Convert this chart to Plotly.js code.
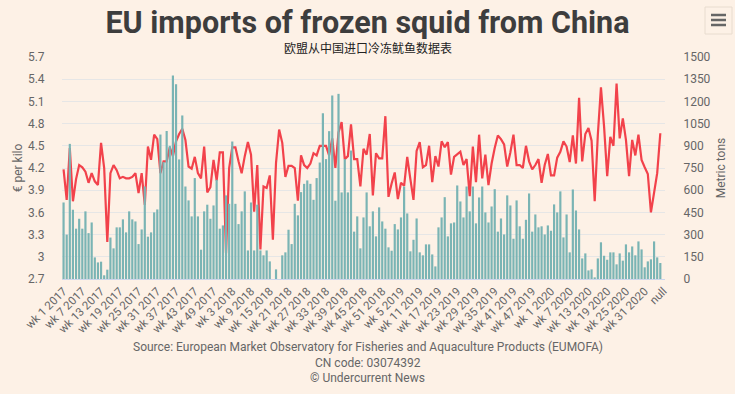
<!DOCTYPE html>
<html>
<head>
<meta charset="utf-8">
<script src="https://cdn.plot.ly/plotly-3.0.1.min.js"></script>
<style>
html,body{margin:0;padding:0;background:#fdf1e6;}
#chart{width:735px;height:394px;}
</style>
</head>
<body>
<div id="chart"></div>
<script>
// ---- data ----
var years = [2017, 2018, 2019, 2020];
var weeksPerYear = [52, 52, 52, 36];
var lastCategory = "null";

// Import volume, metric tons (bars, right axis)
var volumeTons = [
517,300,913,468,340,407,340,457,310,382,146,112,117,25,63,280,207,349,349,403,
315,457,403,389,236,335,625,286,315,450,470,976,790,1000,900,1375,1316,808,1105,625,
531,423,682,423,198,457,502,407,497,670,340,362,565,508,929,508,371,457,592,193,
517,193,502,193,160,193,119,0,65,0,160,180,333,236,508,430,587,643,666,643,
535,682,787,1120,810,999,1240,529,1251,585,810,585,868,320,423,207,416,585,356,457,
288,484,389,340,214,191,371,335,416,625,443,187,265,409,180,160,234,234,166,85,
349,416,553,288,376,382,632,524,416,625,457,625,376,551,625,450,382,490,607,320,
409,301,565,497,272,531,356,272,400,578,320,436,349,356,301,362,326,504,450,592,
281,436,180,605,463,335,139,173,58,65,11,139,248,157,130,180,180,99,173,124,
234,180,220,160,254,200,79,119,133,254,146,108,null
];

// Price, EUR per kilo (line, left axis)
var priceEurKg = [
4.18,3.77,4.47,3.75,4.05,4.24,4.21,4.15,4.00,4.13,4.02,3.97,4.54,4.20,3.20,4.13,4.24,4.17,4.06,4.08,
4.06,4.06,4.08,4.13,3.86,4.13,3.70,4.49,4.31,4.65,4.59,4.13,4.29,4.29,4.48,4.36,4.56,4.66,4.73,4.58,
4.22,4.19,4.35,4.13,4.06,4.49,3.87,3.94,4.31,4.03,4.41,4.41,3.05,4.20,4.48,4.48,4.29,4.13,4.36,4.55,
4.38,3.61,4.24,3.10,3.95,3.93,4.10,3.23,4.27,4.72,4.54,4.08,4.23,4.23,4.20,3.76,4.37,4.24,4.20,4.26,
4.40,4.37,4.50,4.50,4.50,4.37,4.60,4.20,4.68,4.82,4.32,4.36,4.79,4.32,4.32,3.95,4.46,4.38,4.66,3.83,
4.40,4.33,4.33,4.90,3.81,3.99,4.14,3.78,4.00,3.96,4.35,4.05,3.77,4.43,4.55,4.21,4.24,4.50,4.01,4.36,
4.22,4.56,4.48,4.55,4.11,4.35,4.39,4.42,4.24,4.32,3.82,4.49,4.01,4.65,4.06,4.38,3.97,4.26,4.47,4.64,
4.59,4.52,4.22,4.41,4.65,4.24,4.24,4.20,4.50,4.29,4.18,4.24,4.32,4.00,4.24,4.39,4.10,4.10,4.34,4.42,
4.56,4.49,4.28,4.64,4.26,5.15,4.29,4.66,4.74,4.57,3.75,4.65,5.29,4.76,4.09,4.62,4.50,5.34,4.60,4.87,
4.58,4.09,4.58,4.37,4.65,4.31,4.21,4.12,3.60,3.86,4.13,4.67,null
];

// category labels
var categories = [];
for (var yi = 0; yi < years.length; yi++) {
  for (var w = 1; w <= weeksPerYear[yi]; w++) categories.push("wk " + w + " " + years[yi]);
}
categories.push(lastCategory);

var tickStep = 6;
var tickLabels = categories.filter(function(c, i){ return i % tickStep === 0; });

var leftTicks = [2.7,3,3.3,3.6,3.9,4.2,4.5,4.8,5.1,5.4,5.7];
var rightTicks = [0,150,300,450,600,750,900,1050,1200,1350,1500];

// ---- layout helpers ----
var W = 735, H = 394, mL = 62, mR = 70, mT = 57, mB = 115;
var pw = W - mL - mR, ph = H - mT - mB;
function px(x){ return (x - mL) / pw; }
function py(y){ return (H - mB - y) / ph; }

var font = "Roboto, 'Open Sans', sans-serif";
var grey = "#666666";

var traces = [
  {
    type: "bar", name: "Metric tons", x: categories, y: volumeTons, yaxis: "y2",
    marker: {color: "#7ab4b4", line: {width: 0}},
    hoverinfo: "skip"
  },
  {
    type: "scatter", mode: "lines", name: "€ per kilo", x: categories, y: priceEurKg, yaxis: "y",
    line: {color: "#f2424b", width: 2.2},
    connectgaps: false, hoverinfo: "skip"
  }
];

var shapes = [
  {type:"rect", xref:"paper", yref:"paper", x0:px(705), x1:px(732), y0:py(34), y1:py(7),
   line:{color:"#e8dccf", width:1}, fillcolor:"#fdf1e6", layer:"above"}
];
[15,20,25].forEach(function(yy){
  shapes.push({type:"line", xref:"paper", yref:"paper", x0:px(711), x1:px(726), y0:py(yy), y1:py(yy),
    line:{color:"#666666", width:2.5}});
});

var layout = {
  width: W, height: H,
  margin: {l: mL, r: mR, t: mT, b: mB, pad: 0},
  paper_bgcolor: "#fdf1e6", plot_bgcolor: "#fdf1e6",
  showlegend: false,
  bargap: 0.3,
  font: {family: font, color: grey, size: 12},
  title: {
    text: "<b>EU imports of frozen squid from China</b>",
    font: {family: "Roboto, sans-serif", size: 30.5, color: "#3d3d3d"},
    xref: "container", x: 0.5, xanchor: "center",
    yref: "container", y: 1 - 22/H, yanchor: "middle"
  },
  xaxis: {
    type: "category",
    tickmode: "array", tickvals: tickLabels, ticktext: tickLabels,
    tickangle: -45, tickfont: {size: 11.5, color: grey},
    showgrid: false, showline: true, linecolor: "#ccd6eb", linewidth: 1,
    ticks: "", zeroline: false, fixedrange: true
  },
  yaxis: {
    range: [2.7, 5.7], tickmode: "array", tickvals: leftTicks,
    ticktext: leftTicks.map(String),
    showgrid: true, gridcolor: "#e6e6e6", gridwidth: 1, zeroline: false,
    ticks: "outside", ticklen: 14, tickcolor: "rgba(0,0,0,0)",
    tickfont: {size: 12, color: grey},
    title: {text: "€ per kilo", font: {size: 12, color: grey}, standoff: 2},
    fixedrange: true
  },
  yaxis2: {
    range: [0, 1500], tickmode: "array", tickvals: rightTicks,
    ticktext: rightTicks.map(String),
    overlaying: "y", side: "right", showgrid: false, zeroline: false,
    ticks: "outside", ticklen: 15, tickcolor: "rgba(0,0,0,0)",
    tickfont: {size: 12, color: grey},
    title: {text: "Metric tons", font: {size: 12, color: grey}, standoff: 6},
    fixedrange: true
  },
  shapes: shapes,
  annotations: [
    {text: "欧盟从中国进口冷冻鱿鱼数据表", xref: "paper", yref: "paper", x: px(367.5), y: py(47),
     xanchor: "center", yanchor: "middle", showarrow: false,
     font: {family: "'Noto Sans CJK SC', sans-serif", size: 12, color: "#222222"}},
    {text: "Source: European Market Observatory for Fisheries and Aquaculture Products (EUMOFA)",
     xref: "paper", yref: "paper", x: px(367.5), y: py(347), xanchor: "center", yanchor: "middle",
     showarrow: false, font: {size: 12, color: grey}},
    {text: "CN code: 03074392", xref: "paper", yref: "paper", x: px(367.5), y: py(363),
     xanchor: "center", yanchor: "middle", showarrow: false, font: {size: 12, color: grey}},
    {text: "© Undercurrent News", xref: "paper", yref: "paper", x: px(367.5), y: py(378),
     xanchor: "center", yanchor: "middle", showarrow: false, font: {size: 12, color: grey}}
  ]
};

Plotly.newPlot("chart", traces, layout, {displayModeBar: false, staticPlot: true});
</script>
</body>
</html>
